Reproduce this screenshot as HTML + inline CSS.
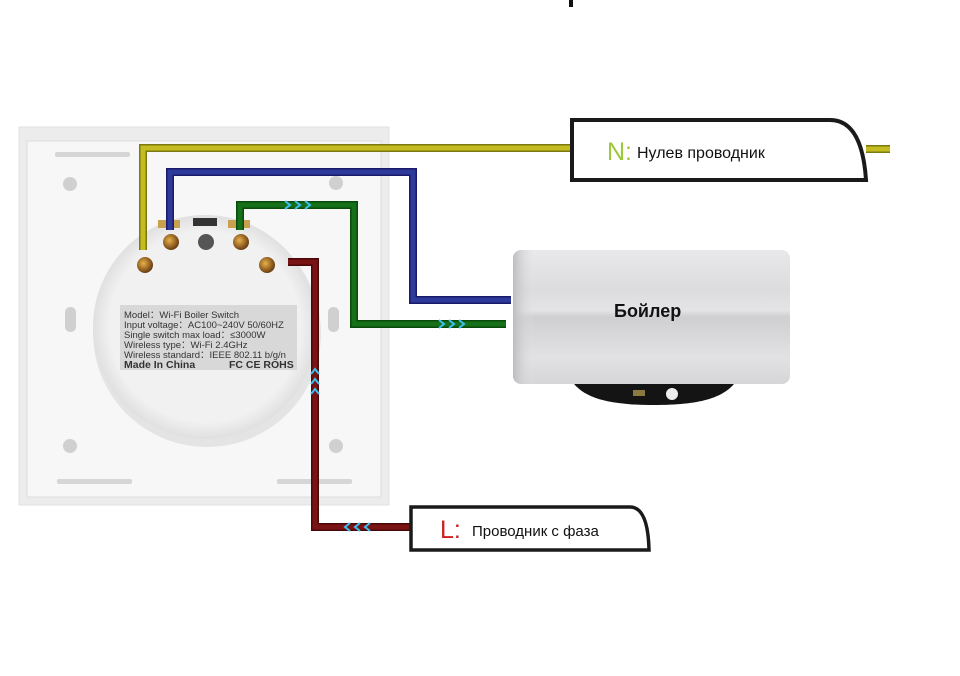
<!DOCTYPE html>
<html><head><meta charset="utf-8"><style>
html,body{margin:0;padding:0;background:#fff;}
svg{display:block;}
text{font-family:"Liberation Sans","DejaVu Sans",sans-serif;}
</style></head><body>
<svg width="960" height="676" viewBox="0 0 960 676" xmlns="http://www.w3.org/2000/svg">
<defs>
<linearGradient id="bo" x1="0" y1="0" x2="0" y2="1">
<stop offset="0" stop-color="#e9e9eb"/><stop offset="0.3" stop-color="#dcdcde"/><stop offset="0.45" stop-color="#e4e4e6"/><stop offset="0.5" stop-color="#cfcfd2"/><stop offset="0.8" stop-color="#e2e2e4"/><stop offset="1" stop-color="#d6d6d8"/>
</linearGradient>
<linearGradient id="bl" x1="0" y1="0" x2="1" y2="0">
<stop offset="0" stop-color="#bdbdc0"/><stop offset="0.08" stop-color="#e4e4e6" stop-opacity="0"/>
</linearGradient>
<radialGradient id="sc" cx="0.4" cy="0.4" r="0.6"><stop offset="0" stop-color="#e8b04a"/><stop offset="1" stop-color="#6b3e10"/></radialGradient>
<radialGradient id="bd" cx="0.5" cy="0.5" r="0.5"><stop offset="0.85" stop-color="#f1f1f1"/><stop offset="1" stop-color="#e0e0e0"/></radialGradient>
</defs>
<rect x="569" y="0" width="4" height="7" fill="#111"/>
<!-- plate -->
<rect x="19" y="127" width="370" height="378" fill="#ececec" stroke="#e0e0e0"/>
<rect x="27" y="141" width="354" height="356" fill="#f7f7f7" stroke="#ddd"/>
<rect x="55" y="152" width="75" height="5" rx="2" fill="#d6d6d6"/>
<rect x="57" y="479" width="75" height="5" rx="2" fill="#d6d6d6"/>
<rect x="277" y="479" width="75" height="5" rx="2" fill="#d6d6d6"/>
<circle cx="70" cy="184" r="7" fill="#d0d0d0"/><circle cx="336" cy="183" r="7" fill="#d0d0d0"/>
<circle cx="70" cy="446" r="7" fill="#d0d0d0"/><circle cx="336" cy="446" r="7" fill="#d0d0d0"/>
<rect x="65" y="307" width="11" height="25" rx="5" fill="#d0d0d0"/>
<rect x="328" y="307" width="11" height="25" rx="5" fill="#d0d0d0"/>
<circle cx="207" cy="333" r="114" fill="#e4e4e4"/>
<circle cx="205" cy="327" r="112" fill="url(#bd)"/>
<rect x="120" y="305" width="177" height="65" fill="#d8d8d8"/>
<g font-size="9.5" fill="#333">
<text x="124" y="318">Model：Wi-Fi Boiler Switch</text>
<text x="124" y="328">Input voltage：AC100~240V  50/60HZ</text>
<text x="124" y="338">Single switch max load：≤3000W</text>
<text x="124" y="348">Wireless type：Wi-Fi 2.4GHz</text>
<text x="124" y="358">Wireless standard：IEEE 802.11 b/g/n</text>
<text x="124" y="368" font-weight="bold" font-size="10.5">Made In China</text>
<text x="229" y="368" font-weight="bold" font-size="10.5">FC CE ROHS</text>
</g>
<rect x="193" y="218" width="24" height="8" fill="#333"/>
<rect x="158" y="220" width="22" height="8" fill="#c8a050"/>
<rect x="228" y="220" width="22" height="8" fill="#c8a050"/>
<circle cx="171" cy="242" r="8" fill="url(#sc)"/><circle cx="206" cy="242" r="8" fill="#555"/>
<circle cx="241" cy="242" r="8" fill="url(#sc)"/>
<circle cx="145" cy="265" r="8" fill="url(#sc)"/><circle cx="267" cy="265" r="8" fill="url(#sc)"/>
<!-- boiler -->
<path d="M571 380 H737 C725 398 700 405 654 405 C608 405 583 398 571 380Z" fill="#141414"/>
<rect x="513" y="250" width="277" height="134" rx="8" fill="url(#bo)"/>
<rect x="513" y="250" width="277" height="134" rx="8" fill="url(#bl)"/>
<circle cx="672" cy="394" r="6" fill="#eee"/>
<rect x="633" y="390" width="12" height="6" fill="#8a7a40"/>
<text x="614" y="317" font-family="Liberation Serif,serif" font-size="18" font-weight="bold" fill="#111">Бойлер</text>
<!-- wires -->
<g fill="none" stroke-width="8" stroke-linejoin="miter">
<path d="M143 250 V148 H572 M866 149 H890" stroke="#7a7a10"/>
<path d="M143 250 V148 H572 M866 149 H890" stroke="#c4bc20" stroke-width="5"/>
<path d="M170 230 V172 H413 V300 H511" stroke="#1a1a6a"/>
<path d="M170 230 V172 H413 V300 H511" stroke="#2e3a9a" stroke-width="5"/>
<path d="M240 230 V205 H354 V324 H506" stroke="#0a4a0a"/>
<path d="M240 230 V205 H354 V324 H506" stroke="#16701a" stroke-width="5"/>
<path d="M288 262 H315 V527 H412" stroke="#4a0808"/>
<path d="M288 262 H315 V527 H412" stroke="#7a1414" stroke-width="5"/>
</g>
<g fill="none" stroke="#3cc0f0" stroke-width="2">
<path d="M285 201 l5 4 l-5 4 M295 201 l5 4 l-5 4 M305 201 l5 4 l-5 4"/>
<path d="M439 320 l5 4 l-5 4 M449 320 l5 4 l-5 4 M459 320 l5 4 l-5 4"/>
<path d="M311 374 l4 -5 l4 5 M311 384 l4 -5 l4 5 M311 394 l4 -5 l4 5"/>
<path d="M350 523 l-5 4 l5 4 M360 523 l-5 4 l5 4 M370 523 l-5 4 l5 4"/>
</g>
<!-- labels -->
<path d="M572 120 H830 Q862 120 866 180 H572Z" fill="#fff" stroke="#1a1a1a" stroke-width="4"/>
<text x="607" y="160" font-size="25" fill="#9cc83c">N:</text>
<text x="637" y="158" font-size="16" fill="#111">Нулев проводник</text>
<path d="M411 507 H630 Q648 507 649 550 H411Z" fill="#fff" stroke="#1a1a1a" stroke-width="3.5"/>
<text x="440" y="538" font-size="25" fill="#cc2020">L:</text>
<text x="472" y="536" font-size="15" fill="#111">Проводник с фаза</text>
</svg>
</body></html>
